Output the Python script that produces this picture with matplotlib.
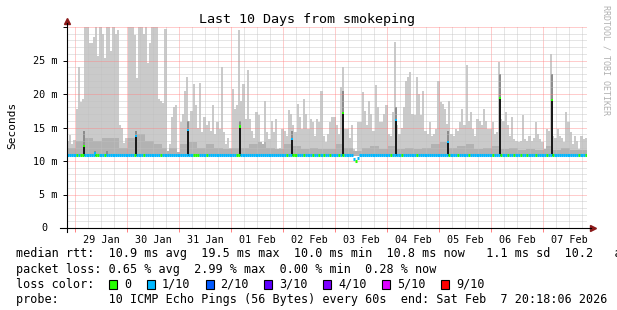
import numpy as np
import matplotlib
matplotlib.use('Agg')
import matplotlib.pyplot as plt
import matplotlib.dates as mdates
from matplotlib.patches import Rectangle
from matplotlib.ticker import MultipleLocator, FuncFormatter, NullFormatter
from datetime import datetime

plt.rcParams['font.family'] = 'DejaVu Sans Mono'

start = datetime(2026, 1, 28, 20, 18, 6)
end = datetime(2026, 2, 7, 20, 18, 6)

# hourly maximum of the smoke (ms), one row per day starting 20:18
smoke_max = [
    13.0, 13.9, 12.6, 13.2, 17.8, 24.0, 18.8, 19.3, 30.0, 30.0, 27.6, 27.6, 28.5, 30.0, 25.6, 30.0, 29.0, 25.4, 30.0, 30.0, 26.4, 30.0, 29.0, 29.5,
    15.4, 15.0, 12.7, 13.5, 30.0, 30.0, 30.0, 28.8, 22.4, 30.0, 30.0, 29.0, 30.0, 24.6, 27.6, 30.0, 30.0, 30.0, 19.3, 19.0, 18.6, 29.7, 11.5, 12.5,
    16.5, 18.0, 18.3, 11.3, 15.8, 17.0, 20.5, 22.5, 16.0, 17.5, 21.5, 18.3, 15.0, 21.6, 14.3, 16.5, 15.3, 16.0, 14.5, 18.3, 14.0, 15.8, 14.8, 24.0,
    14.3, 12.5, 13.5, 12.0, 20.8, 17.8, 18.3, 29.5, 19.0, 21.5, 16.3, 23.6, 16.3, 14.5, 13.5, 17.3, 16.8, 12.8, 12.5, 19.0, 14.3, 13.3, 16.0, 14.3,
    16.3, 11.8, 12.0, 14.8, 14.5, 13.8, 17.6, 17.0, 15.3, 14.3, 18.5, 16.5, 14.8, 19.3, 17.0, 14.8, 16.3, 15.8, 13.8, 16.3, 15.8, 20.5, 13.8, 12.8,
    14.0, 15.8, 16.5, 16.5, 15.3, 14.0, 21.0, 24.0, 14.8, 14.8, 13.5, 15.3, 11.8, 11.5, 15.8, 15.8, 20.3, 17.5, 15.3, 19.0, 17.0, 14.5, 21.4, 18.0,
    15.8, 15.8, 17.0, 18.3, 14.0, 13.8, 17.3, 27.8, 15.3, 14.0, 15.0, 18.0, 22.0, 22.5, 23.3, 17.0, 16.8, 22.5, 20.0, 16.8, 20.5, 14.5, 14.0, 15.8,
    13.8, 14.0, 14.8, 22.0, 18.8, 18.5, 17.8, 15.5, 19.0, 14.0, 13.8, 14.8, 14.5, 15.8, 17.8, 15.3, 24.3, 16.0, 17.3, 14.8, 13.8, 16.3, 16.0, 15.3,
    17.8, 16.0, 14.8, 14.8, 15.8, 14.0, 14.3, 24.8, 16.3, 16.0, 17.3, 15.3, 13.8, 16.5, 13.3, 13.0, 12.8, 13.0, 16.8, 13.3, 13.0, 13.8, 13.0, 13.5,
    15.8, 14.0, 13.3, 12.8, 11.8, 14.8, 14.5, 26.0, 13.8, 13.5, 14.8, 13.8, 13.5, 12.8, 17.3, 15.8, 14.3, 12.5, 13.8, 13.0, 11.8, 13.8, 13.3, 13.5,
]

# darker inner smoke, 4 hour steps
smoke_mid = [
    12.0, 13.0, 13.5, 13.0, 13.5, 13.5,
    12.0, 13.5, 14.0, 13.0, 12.5, 12.0,
    12.0, 12.5, 12.8, 12.0, 12.5, 12.0,
    11.8, 12.0, 12.0, 12.5, 12.8, 12.0,
    11.8, 12.5, 12.3, 11.8, 12.0, 11.8,
    11.8, 12.5, 12.0, 11.5, 12.0, 12.3,
    11.8, 12.3, 11.8, 12.0, 11.8, 12.0,
    12.5, 12.8, 12.0, 12.3, 12.5, 11.8,
    12.0, 12.3, 11.8, 12.0, 11.6, 11.8,
    11.6, 12.3, 11.6, 12.0, 11.6, 11.6,
]

median_ms = 10.85
dip_hours = [132, 133, 134]
dip_ms = [10.3, 10.05, 10.5]
# hours (since start) where the median shows no loss
green_hours = [4, 6, 7, 13, 14, 17, 31, 35, 43, 58, 59, 60, 64, 78, 79, 101, 104, 105,
               109, 113, 116, 118, 121, 125, 127, 133, 149, 154, 161, 176, 180, 185,
               196, 200, 203, 206, 209, 212, 216, 221, 224, 236, 239]

# dark spikes
spike_hours = [7.2, 12.5, 17.8, 31.6, 55.6, 79.4, 103.4, 126.9, 151.2, 175.4, 199.4, 223.4]
spike_top = [12.4, 11.3, 11.1, 13.9, 14.8, 15.3, 13.5, 17.3, 16.3, 13.0, 19.6, 19.3]
spike_dark = [14.5, 11.5, 11.5, 14.5, 16.0, 16.0, 14.5, 20.5, 18.0, 14.5, 23.0, 23.0]
spike_loss = [0, 1, 1, 1, 1, 0, 1, 0, 1, 1, 0, 0]

loss_labels = ['0', '1/10', '2/10', '3/10', '4/10', '5/10', '9/10']
loss_colors = ['#26ff00', '#00b8ff', '#0059ff', '#5e00ff', '#7e00ff', '#dd00ff', '#ff0000']

legend_rtt = 'median rtt:  10.9 ms avg  19.5 ms max  10.0 ms min  10.8 ms now   1.1 ms sd  10.2   am/s'
legend_loss = 'packet loss: 0.65 % avg  2.99 % max  0.00 % min  0.28 % now'
legend_probe = 'probe:       10 ICMP Echo Pings (56 Bytes) every 60s  end: Sat Feb  7 20:18:06 2026'

W, H = 617, 310
fig = plt.figure(figsize=(W / 100, H / 100), dpi=100)
fig.patch.set_facecolor('white')
ax = fig.add_axes([67 / W, 1 - 228 / H, 520 / W, 201 / H])

hour = 1 / 24
t0 = mdates.date2num(start)
t = t0 + np.arange(len(smoke_max)) * hour
base = 10.7

smax = np.array(smoke_max)
ax.bar(t, smax - base, bottom=base, width=hour, align='edge', color='#cacaca', linewidth=0, zorder=1)
mid = np.minimum(np.repeat(smoke_mid, 4), smax)
ax.bar(t, mid - base, bottom=base, width=hour, align='edge', color='#b2b2b2', linewidth=0, zorder=1.1)

ts = t0 + np.array(spike_hours) * hour
ax.bar(ts, np.array(spike_dark) - base, bottom=base, width=0.9 * hour, align='edge',
       color='#8c8c8c', linewidth=0, zorder=1.2)
ax.bar(ts, np.array(spike_top) - base, bottom=base, width=0.9 * hour, align='edge',
       color='#1a1a1a', linewidth=0, zorder=3)
ax.bar(ts, 0.35, bottom=np.array(spike_top) - 0.35, width=0.9 * hour, align='edge',
       color=[loss_colors[l] for l in spike_loss], linewidth=0, zorder=3.1)

med = np.full(len(t), median_ms)
med[dip_hours] = dip_ms
cols = [loss_colors[0] if h in green_hours else loss_colors[1] for h in range(len(t))]
ax.hlines(med, t, t + hour, colors=cols, linewidth=2.2, capstyle='butt', zorder=4)

ax.set_xlim(t0, mdates.date2num(end))
ax.set_ylim(0, 30)

ax.xaxis.set_major_locator(mdates.DayLocator())
ax.xaxis.set_major_formatter(NullFormatter())
ax.xaxis.set_minor_locator(mdates.HourLocator(byhour=[6, 12, 18]))
ax.xaxis.set_minor_formatter(FuncFormatter(
    lambda v, p: mdates.num2date(v).strftime('%d %b') if mdates.num2date(v).hour == 12 else ''))
ax.yaxis.set_major_locator(MultipleLocator(5))
ax.yaxis.set_minor_locator(MultipleLocator(1))
ax.yaxis.set_major_formatter(FuncFormatter(lambda v, p: '' if v == 0 or v >= 30 else '%d m' % v))

ax.set_axisbelow(False)
ax.grid(which='major', color='#ff8080', linestyle=(0, (1, 1)), linewidth=0.72, alpha=0.8)
ax.grid(which='minor', color='#c0c0c0', linestyle=(0, (1, 1)), linewidth=0.72, alpha=0.8)

for s in ax.spines.values():
    s.set_visible(False)
ax.tick_params(axis='x', which='major', length=3, color='#ff8080', width=0.7)
ax.tick_params(axis='x', which='minor', length=0, pad=5, labelsize=7.3)
ax.tick_params(axis='y', which='major', length=3, width=0.7, pad=4, labelsize=7.3)
ax.tick_params(axis='y', which='minor', length=0)
ax.annotate('0', xy=(0, 0), xycoords=('axes fraction', 'data'), xytext=(-19, 0),
            textcoords='offset pixels', ha='right', va='center', fontsize=7.3)

# axis lines with arrows
ax.plot([0, 0], [-0.02, 1.02], transform=ax.transAxes, clip_on=False, color='black', lw=0.8, zorder=5)
ax.plot([-0.013, 1.008], [0, 0], transform=ax.transAxes, clip_on=False, color='black', lw=0.8, zorder=5)
ax.plot([0], [1.03], marker='^', markersize=4, color='#8b1a1a', transform=ax.transAxes, clip_on=False)
ax.plot([1.012], [0], marker='>', markersize=4, color='#8b1a1a', transform=ax.transAxes, clip_on=False)

fig.text(307 / W, 1 - 20 / H, 'Last 10 Days from smokeping', ha='center', va='center', fontsize=9.6)
fig.text(12 / W, 1 - 125 / H, 'Seconds', rotation=90, ha='center', va='center', fontsize=8)
fig.text(606 / W, 1 - 5 / H, 'RRDTOOL / TOBI OETIKER', rotation=270, ha='center', va='top',
         fontsize=6, color='#b0b0b0')

fs = 8.5
cw = 7.1
fig.text(16 / W, 1 - 254 / H, legend_rtt, ha='left', va='center', fontsize=fs)
fig.text(16 / W, 1 - 269 / H, legend_loss, ha='left', va='center', fontsize=fs)
fig.text(16 / W, 1 - 284 / H, 'loss color:', ha='left', va='center', fontsize=fs)
fig.text(16 / W, 1 - 299 / H, legend_probe, ha='left', va='center', fontsize=fs)

bx = 109
for lab, c in zip(loss_labels, loss_colors):
    fig.add_artist(Rectangle((bx / W, 1 - 289 / H), 8 / W, 9 / H, transform=fig.transFigure,
                             facecolor=c, edgecolor='black', linewidth=0.8))
    fig.text((bx + 15) / W, 1 - 284 / H, lab, ha='left', va='center', fontsize=fs)
    bx = bx + 15 + cw * len(lab) + 15.5

fig.savefig('out.png', dpi=100)
